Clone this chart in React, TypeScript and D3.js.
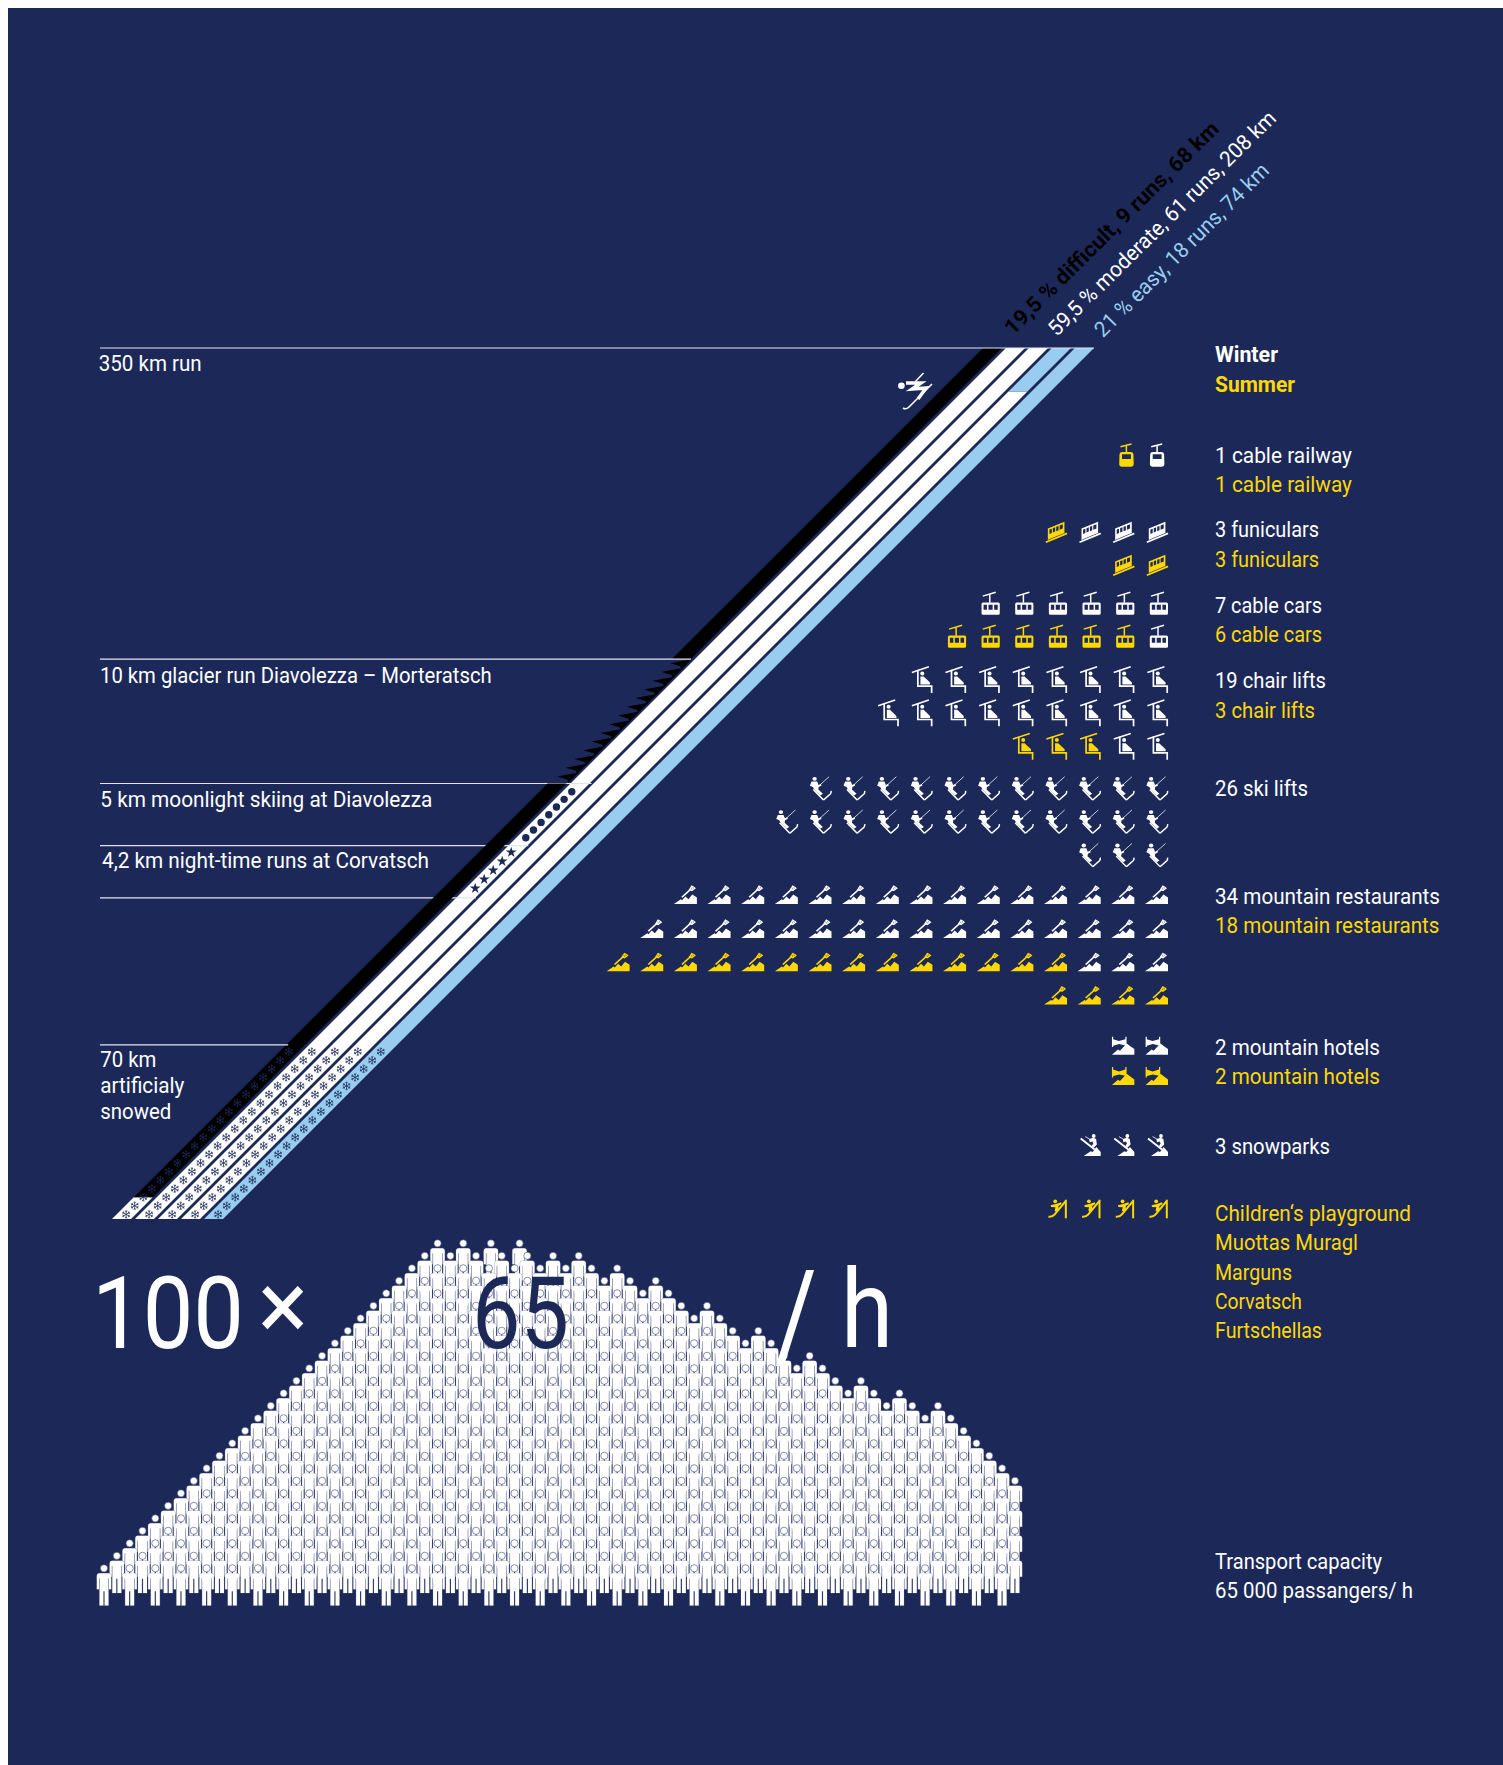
import React from "react";
import * as d3 from "d3";

// ---------- data ----------
const laneKm = 70; // each of the five lanes stands for 70 km
const easyKm = 73.5;
const difficultKm = 68.25;
const snowedKmPerLane = 14;
const symbolKm = 0.7;
const glacierKm = 10;
const moonlightKm = 5;
const nightKm = 4.2;
const gradeLabels = ["19,5 % difficult, 9 runs, 68 km", "59,5 % moderate, 61 runs, 208 km", "21 % easy, 18 runs, 74 km"];
const runLabels = ["350 km run", "10 km glacier run Diavolezza – Morteratsch", "5 km moonlight skiing at Diavolezza", "4,2 km night-time runs at Corvatsch"];
const snowLabels = ["70 km", "artificialy", "snowed"];
const playgroundNames = ["Children‘s playground", "Muottas Muragl", "Marguns", "Corvatsch", "Furtschellas"];
const capacityLabels = ["Transport capacity", "65 000 passangers/ h"];

type Row = string; // read from the right: w = winter, y = summer
const railwayRows: Row[] = ["wy"];
const funicularRows: Row[] = ["wwwy", "yy"];
const cableCarRows: Row[] = ["wwwwww", "wyyyyyy"];
const chairRows: Row[] = ["wwwwwwww", "wwwwwwwww", "wwyyy"];
const skiLiftRows: Row[] = ["wwwwwwwwwww", "wwwwwwwwwwww", "www"];
const restaurantRows: Row[] = ["wwwwwwwwwwwwwww", "wwwwwwwwwwwwwwww", "wwwyyyyyyyyyyyyyy", "yyyy"];
const hotelRows: Row[] = ["ww", "yy"];
const snowparkRows: Row[] = ["www"];
const playgroundRows: Row[] = ["yyyy"];

const legendTexts = [
  ["Winter", "w"], ["Summer", "y"],
  ["1 cable railway", "w"], ["1 cable railway", "y"],
  ["3 funiculars", "w"], ["3 funiculars", "y"],
  ["7 cable cars", "w"], ["6 cable cars", "y"],
  ["19 chair lifts", "w"], ["3 chair lifts", "y"],
  ["26 ski lifts", "w"],
  ["34 mountain restaurants", "w"], ["18 mountain restaurants", "y"],
  ["2 mountain hotels", "w"], ["2 mountain hotels", "y"],
  ["3 snowparks", "w"],
];

// crowd: number of half-steps each column of people rises above the front row
const crowdLevels = [
  0, 1, 2, 3, 4, 5, 6, 7, 8, 9, 10, 11, 12, 13, 14, 15, 16, 17, 18, 19, 20, 21, 22, 23, 24, 25,
  26, 25, 26, 25, 26, 25, 26, 25, 24, 25, 24, 25, 24, 23, 24, 23, 22, 23, 22, 21, 20, 21, 20, 19,
  18, 19, 18, 17, 16, 17, 16, 15, 14, 15, 14, 13, 14, 13, 12, 13, 12, 11, 10, 9, 8, 7,
];

// ---------- layout ----------
const NAVY = "#1c2958";
const WHITE = "#ffffff";
const YELLOW = "#ffd800";
const BLUE = "#98cdef";
const BLACK = "#000000";
const FONT = "Roboto, 'Noto Sans', sans-serif";

const yKm = d3.scaleLinear().domain([0, laneKm]).range([1219, 348]);
const laneLeft = d3.scaleLinear().domain([0, 4]).range([983, 1075]);
const laneWidth = 19;
const leftAt = (lane: number, y: number) => laneLeft(lane) - (y - 348);
const laneSeg = (lane: number, a: number, b: number) => {
  const y0 = yKm(b), y1 = yKm(a);
  return `M${leftAt(lane, y0)},${y0}H${leftAt(lane, y0) + laneWidth}L${leftAt(lane, y1) + laneWidth},${y1}H${leftAt(lane, y1)}Z`;
};
const laneCenter = (lane: number, y: number) => leftAt(lane, y) + laneWidth / 2;

const kmGlacierTop = laneKm - 25;
const kmGlacierBottom = kmGlacierTop - glacierKm;
const kmMoonBottom = kmGlacierBottom - moonlightKm;
const kmNightBottom = kmMoonBottom - nightKm;

const colX = d3.scaleLinear().domain([0, 1]).range([1168, 1134.35]);
const personX = d3.scaleLinear().domain([0, 1]).range([104, 116.83]);
const personY = d3.scaleLinear().domain([0, 1]).range([1568.3, 1555.8]);

function Label({ text, x, y, w, fill = WHITE, size = 21.5, weight = 400, rot = 0 }: any) {
  return (
    <text x={x} y={y} fill={fill} fontFamily={FONT} fontSize={size} fontWeight={weight}
      textLength={w} lengthAdjust="spacingAndGlyphs"
      transform={rot ? `rotate(${rot} ${x} ${y})` : undefined}>{text}</text>
  );
}

// ---------- pictograms (drawn in their own small boxes, right-anchored) ----------
type Glyph = { w: number; draw: (c: string) => React.ReactNode };
const glyphs: Record<string, Glyph> = {
  railway: { w: 14.5, draw: (c) => (<g>
    <path d="M1.3,3.4L12.3,0.6" stroke={c} strokeWidth="1.5" />
    <path d="M7.2,2V9" stroke={c} strokeWidth="1.5" />
    <path fill={c} fillRule="evenodd" d="M3,8.7H11.5Q14,8.7 14.2,11L14.5,21Q14.5,23.4 12,23.4H2.5Q0,23.4 0,21L0.3,11Q0.5,8.7 3,8.7ZM2.8,11V15.6H11.7V11Z" />
  </g>) },
  funicular: { w: 21.2, draw: (c) => (<g>
    <path d="M0,21.2L21.2,12.4" stroke={c} strokeWidth="1.7" />
    <path fill={c} fillRule="evenodd" d="M2,7.4L18.6,0.7V12L13,14.2L7,16.8L2,19ZM3.6,8.6V13L5.9,12V7.7ZM7,7.2V11.6L9.3,10.6V6.3ZM10.4,5.8V10.2L12.7,9.2V4.9ZM13.8,4.5V8.8L16.9,7.6V3.2Z" />
  </g>) },
  cablecar: { w: 18.2, draw: (c) => (<g>
    <path d="M1.2,4.4L14.2,0.6" stroke={c} strokeWidth="1.5" />
    <path d="M8.2,2.6V11" stroke={c} strokeWidth="1.5" />
    <path fill={c} fillRule="evenodd" d="M1.5,10.7H16.7Q18.2,10.7 18.2,12.2V21.5Q18.2,23 16.7,23H1.5Q0,23 0,21.5V12.2Q0,10.7 1.5,10.7ZM2,13V18H5.4V13ZM6.9,13V18H11.1V13ZM12.6,13V18H16.2V13Z" />
  </g>) },
  chair: { w: 20.6, draw: (c) => (<g fill="none">
    <path d="M0,6.4L17,0.7" stroke={c} strokeWidth="1.6" />
    <path d="M6,3.8V20.2H19.8V27" stroke={c} strokeWidth="1.7" />
    <circle cx="10.4" cy="7.4" r="2" fill={c} />
    <path d="M8.6,10.5H11.8L18.2,16.6V18.6H8.6Z" fill={c} />
  </g>) },
  skilift: { w: 21.6, draw: (c) => (<g fill="none" transform="scale(1,0.875)">
    <circle cx="4.7" cy="3.2" r="2.2" fill={c} />
    <path d="M1.6,6.4H7.3L8.6,10.2L11,9.2L11.6,10.8L8.8,12.6L8.4,15.4L13,20.2L10.4,22.2L4.4,15.4L3,12.6L0,11Z" fill={c} />
    <path d="M19.2,0.8L9.5,10.8" stroke={c} strokeWidth="0.8" />
    <path d="M3.4,15.4L13.6,27.4M13.6,27.4L20.4,20.6Q21.4,19.4 21.2,17" stroke={c} strokeWidth="1.5" />
  </g>) },
  restaurant: { w: 23, draw: (c) => (<g transform="scale(1,0.86)">
    <path fill={c} d="M0,22L7,16.6L8.2,17.6L11.5,13.4L14.6,16.5L18.4,11L23,14.6V22Z" />
    <path d="M8,14.2L16.8,5" stroke={c} strokeWidth="1.7" fill="none" />
    <path d="M14.8,5.4L17.6,0.4L20.2,2L22,3.8L18,7.2Z" fill={c} />
    <path d="M17.2,3L18.2,5.4M19,2.4L19.6,4.2" stroke={NAVY} strokeWidth="0.5" />
  </g>) },
  hotel: { w: 22.4, draw: (c) => (<g>
    <path fill={c} d="M0,18L6,12.8L8,14L14.8,6.8L18.4,9.6L22.4,12.4V18Z" />
    <path fill={c} d="M0,0H1.2V2.6L7,4.4L13.4,2.6V0H14.6V9.6H13.4L13.4,8.8L7.2,7.4L1.2,9V10.4H0Z" />
  </g>) },
  snowpark: { w: 20, draw: (c) => (<g fill="none">
    <path fill={c} d="M3,22L10,17.2L12,18L15.6,13L20,18V22Z" />
    <circle cx="13" cy="2" r="1.9" fill={c} />
    <path d="M8.4,5L12.6,3.8L15.4,5L16.2,10.6L13,13.8L11,12L12.6,9.6L11.6,7.4L9,8.2Z" fill={c} />
    <path d="M0,4.4L14,15.4" stroke={c} strokeWidth="1.9" />
    <path d="M4.6,2.6L8.8,5" stroke={c} strokeWidth="0.8" />
  </g>) },
  playground: { w: 19, draw: (c) => (<g fill="none">
    <path d="M17.8,0.4V19" stroke={c} strokeWidth="2" />
    <path d="M17.4,2L6.4,15.4Q4.4,17.8 0.4,17.4" stroke={c} strokeWidth="2" />
    <circle cx="7.2" cy="2" r="1.9" fill={c} />
    <path d="M2.6,6L8.6,4.4L13,3L13.6,4.6L10.4,6.8L10.6,9.8L8,12.6L6.6,11.2L7.4,8L3,7.6Z" fill={c} />
  </g>) },
};

function IconRows({ kind, rows, tops, step }: { kind: string; rows: Row[]; tops: number[]; step?: number }) {
  const g = glyphs[kind];
  return (
    <g>
      {rows.map((row, r) =>
        row.split("").map((code, i) => {
          const right = step ? 1164.4 - step * i : colX(i);
          return (
            <g key={`${r}-${i}`} transform={`translate(${right - g.w},${tops[r]})`}>
              {g.draw(code === "y" ? YELLOW : WHITE)}
            </g>
          );
        })
      )}
    </g>
  );
}

const PERSON = "M-5,5H5Q7.2,5 7.2,7.5V21H5V10H4.5V37.3H0.6V23H-0.6V37.3H-4.5V10H-5V21H-7.2V7.5Q-7.2,5 -5,5Z";

function Flake({ x, y }: { x: number; y: number }) {
  return (
    <g transform={`translate(${x},${y})`} stroke={NAVY} strokeWidth="0.7" fill="none">
      {[0, 60, 120].map((a) => (
        <g key={a} transform={`rotate(${a})`}>
          <path d="M0,-4.3V4.3M-1.2,-3.6L0,-2.6L1.2,-3.6M-1.2,3.6L0,2.6L1.2,3.6" />
        </g>
      ))}
    </g>
  );
}

export default function App() {
  const lanes = d3.range(5);
  const flakeYs = d3.range(20).map((i) => 1051.7 + i * (symbolKm * 12.23));
  const teeth = d3.range(Math.round(glacierKm / symbolKm));
  const dots = d3.range(Math.round(moonlightKm / symbolKm));
  const stars = d3.range(5);
  const star = d3.symbol().type(d3.symbolStar).size(36)() as string;

  const persons = crowdLevels.flatMap((level, c) => {
    const out: { x: number; y: number }[] = [];
    for (let l = c % 2; l <= level; l += 2) {
      const nudge = l === level ? (c === 30 ? 2 : c === 32 ? 5 : 0) : 0;
      out.push({ x: personX(c) + nudge, y: personY(l) });
    }
    return out;
  }).sort((a, b) => a.y - b.y);

  const lineCol = "#e4e5ec";
  const yTop = yKm(laneKm), yGlacier = yKm(kmGlacierTop), yMoon = yKm(kmGlacierBottom), yNight = yKm(kmMoonBottom), yEnd = yKm(kmNightBottom), ySnow = yKm(snowedKmPerLane);

  const legendY = [361.7, 391.7, 462.7, 492, 537, 566.7, 613.3, 642.3, 688.3, 717.7, 796, 904, 933.3, 1055, 1084, 1154];
  const legendW = [63, 80, 137, 137, 104, 104, 107, 107, 111, 100, 93, 225, 224.5, 165, 165, 115];
  const parkY = [1221, 1250, 1280, 1309, 1338];
  const parkW = [196, 143, 77, 87, 107];

  return (
    <svg width={1495} height={1757} style={{ display: "block", position: "absolute", left: 8, top: 8 }}>
      <g transform="translate(-8,-8)">
        <rect x={0} y={0} width={1540} height={1770} fill={NAVY} />

        {/* lanes: white and blue */}
        <path d={laneSeg(0, 0, laneKm - difficultKm)} fill={WHITE} />
        <path d={laneSeg(1, 0, laneKm)} fill={WHITE} />
        <path d={laneSeg(2, 0, laneKm)} fill={WHITE} />
        <path d={laneSeg(3, 0, laneKm - (easyKm - laneKm))} fill={WHITE} />
        <path d={laneSeg(3, laneKm - (easyKm - laneKm), laneKm)} fill={BLUE} />
        <path d={laneSeg(4, 0, laneKm)} fill={BLUE} />

        {/* reference lines that pass beneath the black lane */}
        <path d={`M100,${yMoon}H${leftAt(1, yMoon) + laneWidth + 2}M100,${yNight}H${leftAt(1, yNight) + laneWidth + 1}M100,${yEnd}H${leftAt(1, yEnd) + laneWidth + 1}`} stroke={lineCol} strokeWidth={1.2} />

        {/* black lane with its glacier sawtooth */}
        <path d={laneSeg(0, laneKm - difficultKm, kmGlacierBottom)} fill={BLACK} />
        <path d={laneSeg(0, kmGlacierTop, laneKm)} fill={BLACK} />
        {teeth.map((k) => {
          const ty = 663.3 + k * 8.7;
          const tx = leftAt(0, ty) + 2.5;
          return <path key={k} fill={BLACK} d={`M${tx},${ty}L${tx + 21.5},${ty - 4}L${tx + 11.5},${ty + 6}L${tx + 10},${ty + 3}Z`} />;
        })}

        {/* moonlight and night-time markers */}
        {dots.map((i) => {
          const y = 791.7 + i * 7.67;
          return <circle key={i} cx={laneCenter(1, y)} cy={y} r={3.7} fill={NAVY} />;
        })}
        {stars.map((i) => {
          const y = 852.3 + i * 9;
          return <path key={i} d={star} transform={`translate(${laneCenter(1, y)},${y})`} fill={NAVY} />;
        })}

        {/* snowed section */}
        {lanes.map((l) => flakeYs.map((y) => <Flake key={`${l}-${y}`} x={laneCenter(l, y)} y={y} />))}

        {/* reference lines on top */}
        <path d={`M100,${yTop}H${leftAt(4, yTop) + laneWidth}M100,${yGlacier}H${leftAt(0, yGlacier) + laneWidth}M100,${ySnow}H${leftAt(0, ySnow) + 2}`} stroke={lineCol} strokeWidth={1.2} />

        {/* rotated grade labels */}
        <Label text={gradeLabels[0]} x={1013} y={336} w={292} fill={BLACK} weight={700} rot={-44.8} />
        <Label text={gradeLabels[1]} x={1056.7} y={337.3} w={310} rot={-44.6} />
        <Label text={gradeLabels[2]} x={1103} y={338.3} w={236} fill={BLUE} rot={-44.8} />

        {/* run labels */}
        <Label text={runLabels[0]} x={98.7} y={371} w={103} />
        <Label text={runLabels[1]} x={100} y={682.6} w={391.7} />
        <Label text={runLabels[2]} x={100.3} y={806.6} w={332} />
        <Label text={runLabels[3]} x={102} y={868} w={327} />
        <Label text={snowLabels[0]} x={100.3} y={1066.7} w={56} />
        <Label text={snowLabels[1]} x={100.3} y={1092.7} w={84} />
        <Label text={snowLabels[2]} x={100.3} y={1119.3} w={71} />

        {/* skier */}
        <g transform="translate(898,373)" fill="none" stroke={WHITE}>
          <circle cx={3.4} cy={12.7} r={3.3} fill={WHITE} stroke="none" />
          <path d="M8,10H23L14,16L28,15L20,26" strokeWidth={3.4} />
          <path d="M25.5,0L17,9" strokeWidth={1.5} />
          <path d="M5,35Q8,37 11,34L34,11" strokeWidth={1.6} />
        </g>

        {/* pictograms */}
        <IconRows kind="railway" rows={railwayRows} tops={[443.3]} step={30.7} />
        <IconRows kind="funicular" rows={funicularRows} tops={[521, 554]} />
        <IconRows kind="cablecar" rows={cableCarRows} tops={[591.7, 624.7]} />
        <IconRows kind="chair" rows={chairRows} tops={[666, 699.3, 732.7]} />
        <IconRows kind="skilift" rows={skiLiftRows} tops={[776, 809.3, 842.7]} />
        <IconRows kind="restaurant" rows={restaurantRows} tops={[885, 919, 952.3, 985.7]} />
        <IconRows kind="hotel" rows={hotelRows} tops={[1036.7, 1067]} />
        <IconRows kind="snowpark" rows={snowparkRows} tops={[1134]} />
        <IconRows kind="playground" rows={playgroundRows} tops={[1199.3]} />

        {/* legend */}
        {legendTexts.map(([t, c], i) => (
          <Label key={i} text={t} x={1215} y={legendY[i]} w={legendW[i]} fill={c === "y" ? YELLOW : WHITE} weight={i < 2 ? 700 : 400} />
        ))}
        {playgroundNames.map((t, i) => (
          <Label key={t} text={t} x={1215} y={parkY[i]} w={parkW[i]} fill={YELLOW} />
        ))}
        <Label text={capacityLabels[0]} x={1215} y={1568.5} w={167} />
        <Label text={capacityLabels[1]} x={1215} y={1598} w={198} />

        {/* crowd */}
        {persons.map((p, i) => (
          <g key={i} transform={`translate(${p.x},${p.y})`}>
            <path d={PERSON} fill={WHITE} stroke="#5a6490" strokeWidth={0.5} style={{ paintOrder: "stroke" }} />
            <circle r={3.6} fill={WHITE} stroke="#3b4672" strokeWidth={0.6} />
          </g>
        ))}

        {/* headline */}
        <Label text="100" x={92} y={1348.3} w={152} size={101} weight={400} />
        <Label text="×" x={258} y={1339} w={50} size={96} weight={400} />
        <Label text="65" x={472} y={1348.3} w={97} size={101} weight={400} fill={NAVY} />
        <Label text="/" x={775} y={1358} w={42} size={125} weight={400} />
        <Label text="h" x={841} y={1347} w={52} size={110} weight={400} />
      </g>
    </svg>
  );
}
